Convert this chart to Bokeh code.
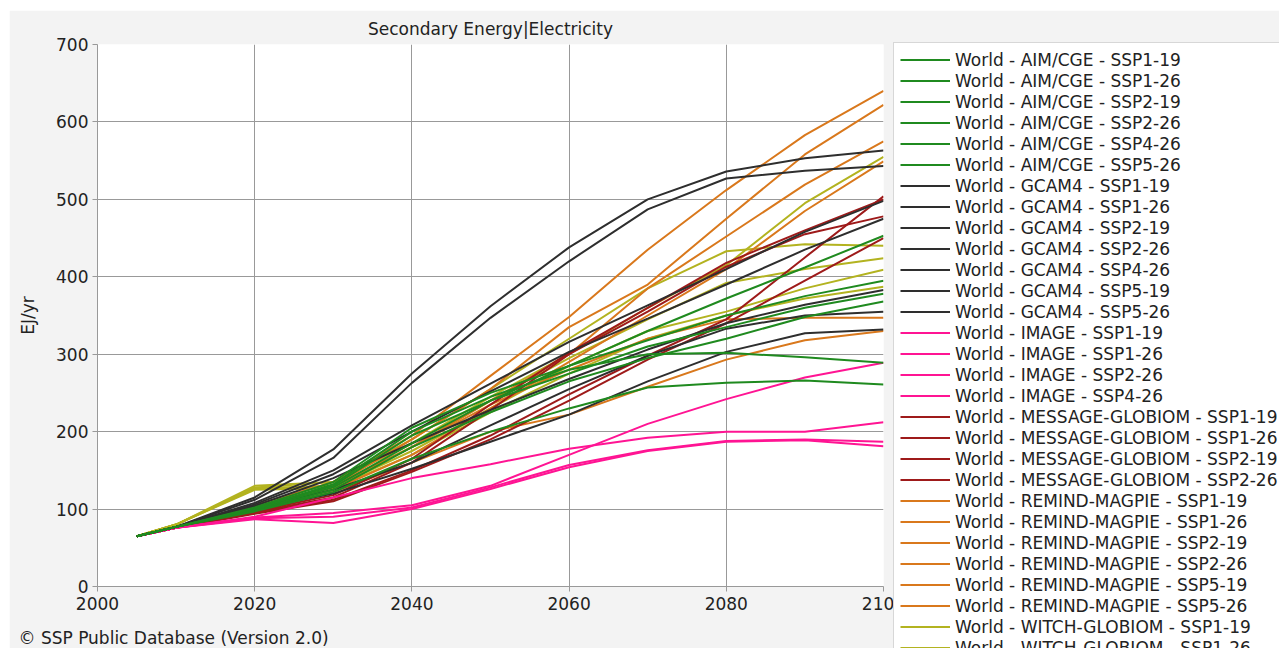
from bokeh.plotting import figure
from bokeh.models import Legend, LegendItem, Label, FixedTicker, Range1d
from bokeh.embed import file_html
from bokeh.resources import INLINE

# Secondary energy (electricity), world, EJ/yr
YEARS = [2005, 2010, 2020, 2030, 2040, 2050, 2060, 2070, 2080, 2090, 2100]

AIM_CGE = {
    "SSP1-19": [65, 77, 102, 135, 205, 250, 285, 318, 350, 375, 395],
    "SSP1-26": [65, 77, 100, 132, 200, 245, 280, 300, 302, 296, 289],
    "SSP2-19": [65, 77, 101, 130, 195, 240, 275, 310, 335, 360, 378],
    "SSP2-26": [65, 77, 99, 128, 185, 240, 285, 330, 372, 412, 453],
    "SSP4-26": [65, 77, 97, 122, 165, 200, 230, 257, 263, 266, 261],
    "SSP5-26": [65, 77, 98, 125, 180, 225, 265, 295, 320, 348, 368],
}
GCAM4 = {
    "SSP1-19": [65, 77, 115, 177, 275, 362, 438, 500, 536, 553, 563],
    "SSP1-26": [65, 77, 112, 166, 263, 347, 420, 487, 527, 537, 543],
    "SSP2-19": [65, 77, 108, 150, 208, 262, 316, 363, 410, 458, 498],
    "SSP2-26": [65, 77, 106, 145, 200, 252, 303, 346, 390, 435, 475],
    "SSP4-26": [65, 77, 104, 140, 185, 228, 268, 306, 340, 364, 383],
    "SSP5-19": [65, 77, 102, 125, 160, 208, 255, 298, 333, 350, 355],
    "SSP5-26": [65, 77, 100, 120, 152, 187, 222, 265, 303, 327, 332],
}
IMAGE = {
    "SSP1-19": [65, 76, 87, 82, 100, 126, 154, 175, 187, 189, 181],
    "SSP1-26": [65, 76, 88, 90, 102, 128, 157, 176, 188, 190, 187],
    "SSP2-26": [65, 76, 89, 95, 105, 130, 170, 210, 242, 270, 289],
    "SSP4-26": [65, 76, 90, 115, 140, 158, 178, 192, 200, 200, 212],
}
MESSAGE_GLOBIOM = {
    "SSP1-19": [65, 76, 95, 112, 150, 195, 248, 298, 345, 425, 504],
    "SSP1-26": [65, 76, 96, 115, 160, 228, 300, 355, 413, 455, 478],
    "SSP2-19": [65, 76, 94, 110, 148, 190, 240, 293, 340, 395, 450],
    "SSP2-26": [65, 76, 97, 118, 165, 235, 302, 360, 418, 460, 500],
}
REMIND_MAGPIE = {
    "SSP1-19": [65, 77, 105, 135, 195, 272, 348, 435, 512, 583, 640],
    "SSP1-26": [65, 77, 103, 130, 190, 255, 335, 390, 475, 558, 622],
    "SSP2-19": [65, 77, 102, 128, 180, 240, 300, 385, 452, 519, 575],
    "SSP2-26": [65, 77, 100, 125, 170, 230, 290, 350, 410, 485, 549],
    "SSP5-19": [65, 77, 102, 130, 180, 235, 280, 320, 345, 347, 347],
    "SSP5-26": [65, 77, 98, 122, 160, 200, 222, 258, 293, 318, 330],
}
WITCH_GLOBIOM = {
    "SSP1-19": [65, 80, 128, 135, 185, 245, 300, 360, 415, 495, 555],
    "SSP1-26": [65, 80, 130, 135, 190, 255, 320, 385, 433, 442, 440],
    "SSP2-26": [65, 80, 127, 130, 180, 240, 295, 345, 392, 410, 424],
    "SSP4-26": [65, 80, 126, 128, 175, 230, 285, 330, 355, 385, 409],
    "SSP5-26": [65, 80, 125, 127, 170, 225, 275, 320, 350, 372, 387],
}

MODELS = [
    ("AIM/CGE", AIM_CGE, "#1f8a1f"),
    ("GCAM4", GCAM4, "#2e2e2e"),
    ("IMAGE", IMAGE, "#ff1493"),
    ("MESSAGE-GLOBIOM", MESSAGE_GLOBIOM, "#9e1a1a"),
    ("REMIND-MAGPIE", REMIND_MAGPIE, "#d9781c"),
    ("WITCH-GLOBIOM", WITCH_GLOBIOM, "#b3b320"),
]

X_TICKS = [2000, 2020, 2040, 2060, 2080, 2100]
Y_TICKS = [0, 100, 200, 300, 400, 500, 600, 700]

FONT = "DejaVu Sans"
FS = "17px"
TXT = "#222222"

p = figure(frame_width=786, frame_height=542,
           x_range=Range1d(2000, 2100), y_range=Range1d(0, 700),
           output_backend="svg", toolbar_location=None,
           min_border_left=88, min_border_right=0,
           min_border_top=34, min_border_bottom=62)
p.margin = (10, 0, 0, 9)
p.border_fill_color = "#f3f3f3"
p.background_fill_color = "white"
p.outline_line_color = None

p.title.text = "Secondary Energy|Electricity"
p.title.align = "center"
p.title.text_font = FONT
p.title.text_font_size = FS
p.title.text_font_style = "normal"
p.title.text_color = TXT
p.title.standoff = 11

p.xaxis.ticker = FixedTicker(ticks=X_TICKS)
p.yaxis.ticker = FixedTicker(ticks=Y_TICKS)
for ax in (p.xaxis, p.yaxis):
    ax.axis_line_color = "#999999"
    ax.major_tick_line_color = "#999999"
    ax.major_tick_out = 5
    ax.major_tick_in = 0
    ax.minor_tick_line_color = None
    ax.major_label_text_font = FONT
    ax.major_label_text_font_size = FS
    ax.major_label_text_color = TXT
p.xaxis.major_label_standoff = 5
p.yaxis.major_label_standoff = 4
p.yaxis.axis_label = "EJ/yr"
p.yaxis.axis_label_text_font = FONT
p.yaxis.axis_label_text_font_size = FS
p.yaxis.axis_label_text_font_style = "normal"
p.yaxis.axis_label_text_color = TXT
p.yaxis.axis_label_standoff = 15

p.grid.grid_line_color = "#999999"
p.grid.grid_line_width = 1

# draw in reverse so the first-listed model sits on top
renderers = {}
for model, series, color in reversed(MODELS):
    for scen in reversed(list(series)):
        r = p.line(YEARS, series[scen], line_color=color, line_width=2)
        renderers[(model, scen)] = r

items = []
for model, series, color in MODELS:
    for scen in series:
        items.append(LegendItem(label=f"World - {model} - {scen}",
                                renderers=[renderers[(model, scen)]]))

legend_h = len(items) * 21 + 12
# legend painted in the guide pass so the footer text can sit on top of it
legend = Legend(items=items, location=(10, 542 - legend_h),
                glyph_width=50, glyph_height=21, label_height=21,
                spacing=0, padding=6, margin=0, label_standoff=5,
                label_text_font=FONT, label_text_font_size=FS,
                label_text_color=TXT,
                border_line_color="#b0b0b0", border_line_width=1,
                background_fill_color="white", background_fill_alpha=1.0,
                level="guide")
p.add_layout(legend, "right")

p.add_layout(Label(x=-79, y=-5, x_units="screen", y_units="screen",
                   text="\u00a9 SSP Public Database (Version 2.0)",
                   text_align="left", text_baseline="middle",
                   text_font=FONT, text_font_size=FS, text_color=TXT), "below")
# timestamp sits over the legend's lower rows (second strip below the axis)
p.add_layout(Label(x=893, y=13, x_units="screen", y_units="screen",
                   text="generated: 2024-04-16 20:09:59",
                   text_align="left", text_baseline="middle",
                   text_font=FONT, text_font_size=FS, text_color=TXT), "below")

open("out.html", "w").write(file_html(p, INLINE))
